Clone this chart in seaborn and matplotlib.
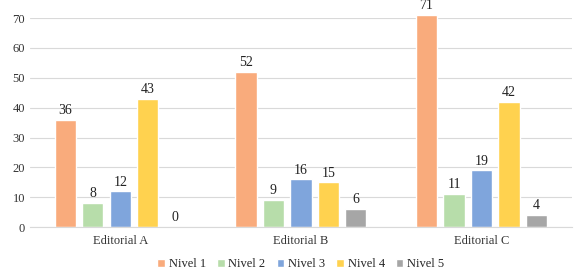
import matplotlib.pyplot as plt
import seaborn as sns
import pandas as pd

editoriales = ['Editorial A', 'Editorial B', 'Editorial C']
niveles = ['Nivel 1', 'Nivel 2', 'Nivel 3', 'Nivel 4', 'Nivel 5']
nivel_1 = [36, 52, 71]
nivel_2 = [8, 9, 11]
nivel_3 = [12, 16, 19]
nivel_4 = [43, 15, 42]
nivel_5 = [0, 6, 4]
colores = ['#F9AB7C', '#B7DDAA', '#7FA5DC', '#FFD24F', '#A6A6A6']

rows = []
for nivel, vals in zip(niveles, [nivel_1, nivel_2, nivel_3, nivel_4, nivel_5]):
    for ed, v in zip(editoriales, vals):
        rows.append({'editorial': ed, 'nivel': nivel, 'valor': v})
df = pd.DataFrame(rows)

sns.set_style('white')
plt.rcParams['font.family'] = ['Liberation Serif', 'DejaVu Serif']

fig = plt.figure(figsize=(5.87, 2.78), dpi=100)
ax = fig.add_axes([0.051, 0.183, 0.923, 0.752])
sns.barplot(data=df, x='editorial', y='valor', hue='nivel', palette=colores,
            width=0.76, gap=0.22, ax=ax, saturation=1)

for cont in ax.containers:
    for bar in cont:
        bar.set_clip_on(False)
    labels = ax.bar_label(cont, padding=2, fontsize=10, color='#222222')
    for t in labels:
        t.set_annotation_clip(False)
        t.set_clip_on(False)

ax.set_ylim(0, 70)
ax.set_xlim(-0.5, 2.5)
ax.set_yticks(range(0, 71, 10))
ax.grid(axis='y', color='#D9D9D9', linewidth=0.8)
ax.set_axisbelow(True)
for s in ['top', 'right', 'left']:
    ax.spines[s].set_visible(False)
ax.spines['bottom'].set_color('#D9D9D9')
ax.tick_params(axis='both', length=0, labelsize=9, colors='#333333')
ax.tick_params(axis='x', pad=6)
ax.set_xlabel('')
ax.set_ylabel('')

ax.legend(loc='upper center', bbox_to_anchor=(0.5, -0.095), ncol=5, frameon=False,
          fontsize=9, handlelength=0.6, handleheight=0.6, handletextpad=0.3,
          columnspacing=0.9)

fig.savefig('out.png', dpi=100)
